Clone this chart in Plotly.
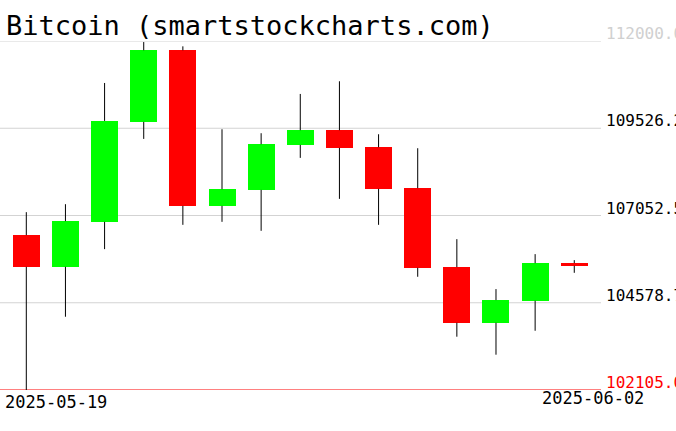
import plotly.graph_objects as go

dates = ["2025-05-19", "2025-05-20", "2025-05-21", "2025-05-22", "2025-05-23",
         "2025-05-24", "2025-05-25", "2025-05-26", "2025-05-27", "2025-05-28",
         "2025-05-29", "2025-05-30", "2025-05-31", "2025-06-01", "2025-06-02"]
open_ = [106495, 105598, 106873, 109706, 111736, 107326, 107779, 109054,
         109470, 108988, 107827, 105589, 104012, 104635, 105702]
close = [105598, 106892, 109734, 111736, 107326, 107798, 109073, 109470,
         108969, 107808, 105570, 104012, 104654, 105702, 105627]
high = [107147, 107373, 110810, 111970, 111849, 109498, 109385, 110499,
        110858, 109356, 108960, 106382, 104966, 105957, 105787]
low = [102105, 104182, 106099, 109224, 106788, 106873, 106618, 108686,
       107524, 106788, 105315, 103616, 103106, 103785, 105428]

tick_vals = [112000.0, 109526.2, 107052.5, 104578.7, 102105.0]
tick_text = ["112000.0", "109526.2", "107052.5", "104578.7", "102105.0"]
tick_colors = ["#d0d0d0", "black", "black", "black", "red"]
grid_colors = ["#d3d3d3", "#d3d3d3", "#d3d3d3", "#d3d3d3", "red"]
title_text = "Bitcoin (smartstockcharts.com)"

UP, DOWN = "#00ff00", "#ff0000"
colors = [UP if c >= o else DOWN for o, c in zip(open_, close)]

fig = go.Figure()

# bodies
fig.add_trace(go.Bar(
    x=dates,
    y=[c - o if c != o else 1 for o, c in zip(open_, close)],
    base=open_,
    width=0.69,
    marker=dict(color=colors, line=dict(width=0)),
    hoverinfo="skip",
    showlegend=False,
))

# wicks, split above and below the body so they don't cross it
wx, wy = [], []
for d, o, c, h, l in zip(dates, open_, close, high, low):
    top, bot = max(o, c), min(o, c)
    wx += [d, d, None, d, d, None]
    wy += [top, h, None, l, bot, None]
fig.add_trace(go.Scatter(
    x=wx, y=wy, mode="lines",
    line=dict(color="black", width=1),
    hoverinfo="skip", showlegend=False, connectgaps=False,
))

annotations = []
for v, t, col in zip(tick_vals, tick_text, tick_colors):
    annotations.append(dict(
        xref="paper", yref="y", x=1, y=v, text=t, showarrow=False,
        xanchor="left", yanchor="bottom", xshift=3, yshift=-4,
        font=dict(family="DejaVu Sans Mono", size=16, color=col),
    ))

annotations.append(dict(
    xref="paper", yref="paper", x=0, y=0, text=dates[0], showarrow=False,
    xanchor="left", yanchor="top", xshift=3, yshift=0,
    font=dict(family="DejaVu Sans Mono", size=17, color="black"),
))
annotations.append(dict(
    xref="paper", yref="paper", x=1, y=0, text=dates[-1], showarrow=False,
    xanchor="right", yanchor="top", xshift=45, yshift=4,
    font=dict(family="DejaVu Sans Mono", size=17, color="black"),
))
annotations.append(dict(
    xref="paper", yref="paper", x=0, y=1, text=title_text, showarrow=False,
    xanchor="left", yanchor="bottom", xshift=4, yshift=-2,
    font=dict(family="DejaVu Sans Mono", size=27, color="black"),
))

shapes = [dict(type="line", xref="paper", yref="y", x0=0, x1=1, y0=v, y1=v,
               line=dict(color=gc, width=1), layer="below")
          for v, gc in zip(tick_vals, grid_colors)]

fig.update_layout(
    width=676, height=431,
    margin=dict(l=0, r=75, t=41, b=41, autoexpand=False),
    paper_bgcolor="white", plot_bgcolor="white",
    showlegend=False,
    bargap=0,
    xaxis=dict(type="category", range=[-0.672, 14.683], showgrid=False,
               showticklabels=False, zeroline=False, showline=False,
               fixedrange=True),
    yaxis=dict(range=[102105, 112000], showticklabels=False, showgrid=False,
               zeroline=False, showline=False, fixedrange=True),
    shapes=shapes,
    annotations=annotations,
)

fig.write_html(
    "out.html",
    config={"displayModeBar": False},
    post_script="document.body.style.margin='0';document.body.style.padding='0';",
)
